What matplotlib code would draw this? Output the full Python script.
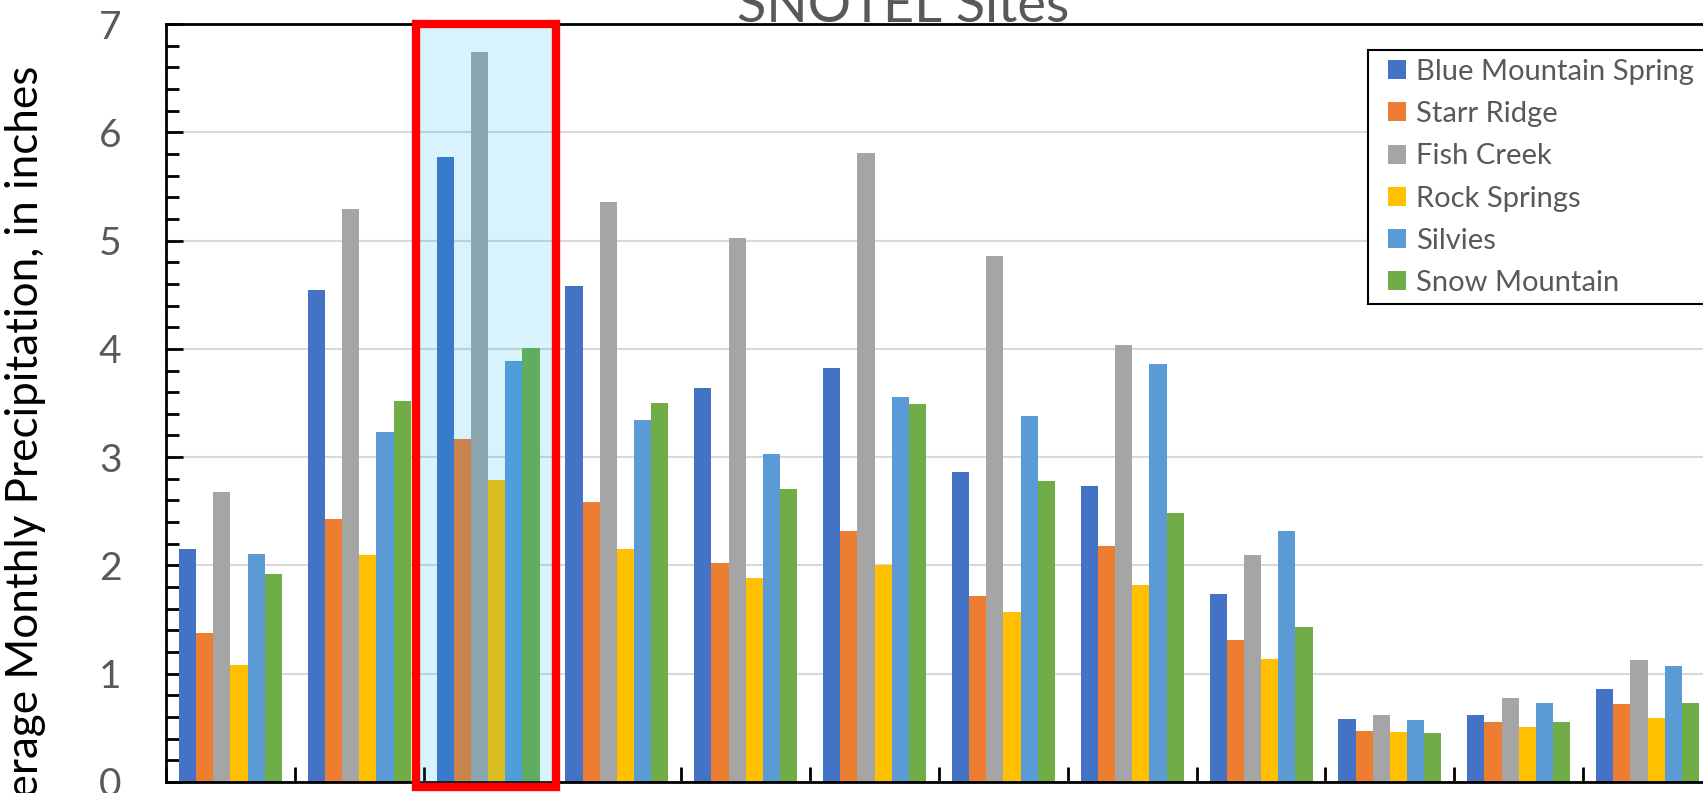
import numpy as np
import matplotlib
matplotlib.use('Agg')
import matplotlib.pyplot as plt
from matplotlib.patches import Rectangle
from matplotlib.ticker import MultipleLocator

plt.rcParams['font.family'] = ['Lato', 'DejaVu Sans']

months = ['Oct', 'Nov', 'Dec', 'Jan', 'Feb', 'Mar', 'Apr', 'May', 'Jun', 'Jul', 'Aug', 'Sep']
sites = ['Blue Mountain Spring', 'Starr Ridge', 'Fish Creek', 'Rock Springs', 'Silvies', 'Snow Mountain']
colors = ['#4472c4', '#ed7d31', '#a5a5a5', '#ffc000', '#5b9bd5', '#70ad47']

blue_mountain_spring = [2.15, 4.54, 5.77, 4.58, 3.64, 3.82, 2.86, 2.73, 1.74, 0.58, 0.62, 0.86]
starr_ridge = [1.38, 2.43, 3.17, 2.59, 2.02, 2.32, 1.72, 2.18, 1.31, 0.47, 0.55, 0.72]
fish_creek = [2.68, 5.29, 6.74, 5.36, 5.02, 5.81, 4.86, 4.04, 2.10, 0.62, 0.78, 1.13]
rock_springs = [1.08, 2.10, 2.79, 2.15, 1.88, 2.00, 1.57, 1.82, 1.14, 0.46, 0.51, 0.59]
silvies = [2.11, 3.23, 3.89, 3.34, 3.03, 3.56, 3.38, 3.86, 2.32, 0.57, 0.73, 1.07]
snow_mountain = [1.92, 3.52, 4.01, 3.50, 2.71, 3.49, 2.78, 2.48, 1.43, 0.45, 0.55, 0.73]
series = [blue_mountain_spring, starr_ridge, fish_creek, rock_springs, silvies, snow_mountain]

highlight_month = 'Dec'

W, H = 1703, 793
fig = plt.figure(figsize=(W / 100, H / 100), dpi=100)
# plot area runs a little past the right edge of the canvas
ax = fig.add_axes([166 / W, 11 / H, 1546 / W, 758 / H])

n = len(series)
bar_w = 0.8 / n
x = np.arange(len(months)) + 0.5
for i, (name, vals, c) in enumerate(zip(sites, series, colors)):
    ax.bar(x + (i - (n - 1) / 2) * bar_w, vals, width=bar_w, color=c, label=name, zorder=2)

ax.set_xlim(0, len(months))
ax.set_ylim(0, 7)
ax.yaxis.set_major_locator(MultipleLocator(1))
ax.yaxis.set_minor_locator(MultipleLocator(0.2))
ax.set_xticks(np.arange(len(months) + 1))
ax.tick_params(axis='x', direction='in', length=11, width=2, labelbottom=False, color='black')
ax.tick_params(axis='y', which='major', direction='in', length=12, width=2,
               labelsize=28, labelcolor='#595959', pad=32)
ax.tick_params(axis='y', which='minor', direction='in', length=9, width=2)
ax.grid(axis='y', color='#d9d9d9', linewidth=1.5, zorder=0)
ax.set_axisbelow(True)
for s in ax.spines.values():
    s.set_linewidth(2)
    s.set_color('black')

# highlighted month: tinted overlay with a red frame
k = months.index(highlight_month)
ax.add_patch(Rectangle((k - 0.06, -0.045), 1.09, 7.045,
                       facecolor=(0.0, 0.69, 0.94, 0.15), edgecolor='#ff0000',
                       linewidth=6, clip_on=False, zorder=5))

fig.text(26 / W, 1 - 66 / H, 'Average Monthly Precipitation, in inches', rotation=90,
         ha='center', va='top', fontsize=31.7, color='black')
fig.text(903 / W, 1 - 22 / H, 'SNOTEL Sites', ha='center', va='baseline',
         fontsize=39, color='#595959')

# legend box drawn separately so its padding can be set freely
ax.add_patch(Rectangle((1368 / W, 1 - 304 / H), 340 / W, 254 / H,
                       transform=fig.transFigure, facecolor='white', clip_on=False,
                       edgecolor='black', linewidth=1.5, zorder=6))
leg = ax.legend(loc='upper left', bbox_to_anchor=(1388 / W, 1 - 59 / H),
                bbox_transform=fig.transFigure, borderaxespad=0, borderpad=0,
                frameon=False, fontsize=21, labelcolor='#595959',
                handlelength=0.62, handleheight=0.62, handletextpad=0.35,
                labelspacing=0.555)
leg.set_zorder(7)

fig.savefig('out.png', dpi=100)
